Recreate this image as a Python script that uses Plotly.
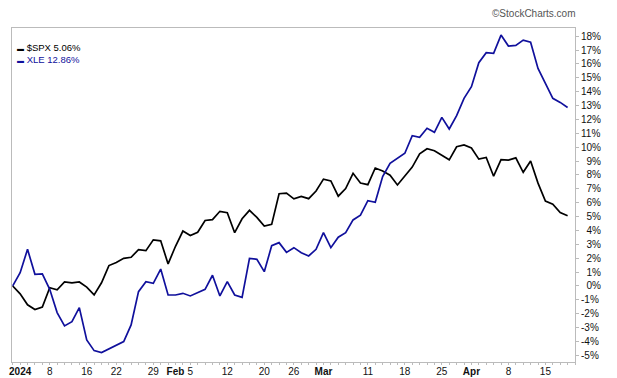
import plotly.graph_objects as go

# Trading days from the base date (Dec 29 2023) through Apr 18 2024
dates = [
    "2023-12-29",
    "2024-01-02", "2024-01-03", "2024-01-04", "2024-01-05", "2024-01-08", "2024-01-09",
    "2024-01-10", "2024-01-11", "2024-01-12", "2024-01-16", "2024-01-17", "2024-01-18",
    "2024-01-19", "2024-01-22", "2024-01-23", "2024-01-24", "2024-01-25", "2024-01-26",
    "2024-01-29", "2024-01-30", "2024-01-31",
    "2024-02-01", "2024-02-02", "2024-02-05", "2024-02-06", "2024-02-07", "2024-02-08",
    "2024-02-09", "2024-02-12", "2024-02-13", "2024-02-14", "2024-02-15", "2024-02-16",
    "2024-02-20", "2024-02-21", "2024-02-22", "2024-02-23", "2024-02-26", "2024-02-27",
    "2024-02-28", "2024-02-29",
    "2024-03-01", "2024-03-04", "2024-03-05", "2024-03-06", "2024-03-07", "2024-03-08",
    "2024-03-11", "2024-03-12", "2024-03-13", "2024-03-14", "2024-03-15", "2024-03-18",
    "2024-03-19", "2024-03-20", "2024-03-21", "2024-03-22", "2024-03-25", "2024-03-26",
    "2024-03-27", "2024-03-28",
    "2024-04-01", "2024-04-02", "2024-04-03", "2024-04-04", "2024-04-05", "2024-04-08",
    "2024-04-09", "2024-04-10", "2024-04-11", "2024-04-12", "2024-04-15", "2024-04-16",
    "2024-04-17", "2024-04-18",
]

spx = [
    0.00,
    -0.57, -1.36, -1.70, -1.52, -0.13, -0.28, 0.29, 0.22, 0.29, -0.08, -0.64, 0.23,
    1.47, 1.69, 1.99, 2.07, 2.61, 2.54, 3.32, 3.25, 1.59,
    2.86, 3.96, 3.63, 3.87, 4.72, 4.78, 5.38, 5.28, 3.84, 4.84, 5.45, 4.94,
    4.31, 4.44, 6.65, 6.69, 6.28, 6.46, 6.29, 6.84,
    7.70, 7.57, 6.47, 7.02, 8.12, 7.42, 7.30, 8.50, 8.29, 7.98, 7.28, 7.96,
    8.57, 9.53, 9.89, 9.74, 9.40, 9.09, 10.03, 10.16,
    9.94, 9.14, 9.26, 7.91, 9.11, 9.07, 9.23, 8.19, 9.00, 7.41, 6.12, 5.90,
    5.29, 5.06,
]

xle = [
    0.00,
    0.96, 2.64, 0.84, 0.87, -0.24, -1.92, -2.88, -2.57, -1.56, -3.89, -4.66, -4.80,
    -4.54, -4.23, -4.01, -2.81, -0.41, 0.31, 0.19, 1.22, -0.65,
    -0.65, -0.53, -0.72, -0.46, -0.24, 0.77, -0.72, 0.31, -0.65, -0.82, 1.99, 1.92,
    1.03, 2.90, 3.12, 2.42, 2.76, 2.40, 2.16, 2.64,
    3.84, 2.76, 3.51, 3.84, 4.76, 5.10, 6.15, 6.03, 7.88, 8.84, 9.20, 9.56,
    10.83, 10.71, 11.36, 11.07, 12.15, 11.31, 12.27, 13.52,
    14.36, 16.09, 16.81, 16.76, 18.08, 17.29, 17.34, 17.72, 17.56, 15.68, 14.60, 13.52,
    13.23, 12.86,
]

# x-axis labels: (date, label, bold)
x_labels = [
    ("2024-01-02", "2024", True), ("2024-01-08", "8", False), ("2024-01-16", "16", False),
    ("2024-01-22", "22", False), ("2024-01-29", "29", False), ("2024-02-01", "Feb", True),
    ("2024-02-05", "5", False), ("2024-02-12", "12", False), ("2024-02-20", "20", False),
    ("2024-02-26", "26", False), ("2024-03-01", "Mar", True), ("2024-03-11", "11", False),
    ("2024-03-18", "18", False), ("2024-03-25", "25", False), ("2024-04-01", "Apr", True),
    ("2024-04-08", "8", False), ("2024-04-15", "15", False),
]

y_ticks = list(range(-5, 19))

series = [("$SPX", spx, "#000000"), ("XLE", xle, "#10109c")]

idx = list(range(len(dates)))
fig = go.Figure()
for name, vals, col in series:
    fig.add_trace(go.Scatter(
        x=idx, y=vals, mode="lines", name=name,
        line=dict(color=col, width=1.7), showlegend=False,
        customdata=dates, hovertemplate="%{customdata}: %{y:.2f}%<extra>" + name + "</extra>",
    ))

tickvals = [dates.index(d) for d, _, _ in x_labels]
ticktext = [f"<b>{t}</b>" if b else t for _, t, b in x_labels]

ytext = [("\u2007" if 0 <= v < 10 else "") + f"{v}%" for v in y_ticks]

# the page body adds an 8px offset, so the figure is sized to fit the 617x378 window
fig.update_layout(
    width=609, height=370,
    margin=dict(l=4, r=42, t=20, b=16, autoexpand=False),
    paper_bgcolor="white", plot_bgcolor="white",
    font=dict(family="Liberation Sans, Arial, sans-serif", size=10, color="#111"),
    xaxis=dict(
        range=[-0.1, 76.0], tickvals=tickvals, ticktext=ticktext, automargin=False,
        showgrid=False, zeroline=False, showline=True, mirror=True,
        linecolor="#bbbbbb", linewidth=1,
        ticks="", ticklen=0,
        minor=dict(dtick=1, tick0=0, ticks="outside", ticklen=2, tickcolor="#bbbbbb"),
        tickfont=dict(size=10, color="#111"),
    ),
    yaxis=dict(
        side="right", range=[-5.48, 18.59], tickvals=y_ticks, ticktext=ytext, automargin=False,
        showgrid=False, zeroline=False, showline=True, mirror=True,
        linecolor="#bbbbbb", linewidth=1,
        ticks="outside", ticklen=3, tickcolor="#bbbbbb",
        tickfont=dict(size=10, color="#111"),
    ),
    hovermode="x",
)

# legend-like labels (one block, one line per series)
lines = [
    f"<span style='color:{col}'><span style='font-size:7px'>▬</span> {name} {vals[-1]:.2f}%</span>"
    for name, vals, col in series
]
fig.add_annotation(
    xref="paper", yref="paper", x=0.006, y=0.965,
    xanchor="left", yanchor="top", showarrow=False, align="left",
    text="<br>".join(lines),
    font=dict(size=9.5, color="#000"),
)

fig.add_annotation(
    xref="paper", yref="paper", x=1.003, y=1.0, yshift=15,
    xanchor="right", yanchor="middle", showarrow=False, borderpad=0,
    text="©StockCharts.com", font=dict(size=10, color="#555"),
)

fig.write_html("out.html")
